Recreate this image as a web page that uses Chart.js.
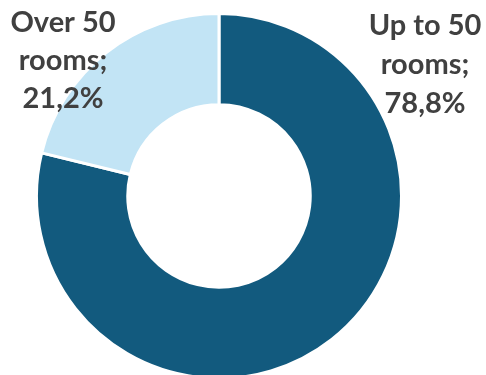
<!DOCTYPE html>
<html>
<head>
<meta charset="utf-8">
<script src="https://cdn.jsdelivr.net/npm/chart.js@4.4.1/dist/chart.umd.min.js"></script>
<style>
  html, body { margin: 0; padding: 0; background: #fff; overflow: hidden; }
  #wrap { width: 486px; height: 380px; }
</style>
</head>
<body>
<div id="wrap"><canvas id="roomsChart" width="486" height="380"></canvas></div>
<script>
// hotel size split
const categories = [['Up to 50', 'rooms'], ['Over 50', 'rooms']];
const shares = [78.8, 21.2];
const sliceColors = ['#125A7E', '#C2E4F5'];

// label anchor: centre x, first baseline, line step
const labelSpots = [
    { x: 425, y: 35, step: 39 },
    { x: 63, y: 32, step: 38 }
];

function fmt(v) { return v.toFixed(1).replace('.', ',') + '%'; }

const sliceLabels = {
    id: 'sliceLabels',
    afterDatasetsDraw(chart) {
        const ctx = chart.ctx;
        ctx.save();
        ctx.fillStyle = '#404040';
        ctx.font = 'bold 29px Lato, "DejaVu Sans", sans-serif';
        ctx.textAlign = 'center';
        ctx.textBaseline = 'alphabetic';
        categories.forEach((c, i) => {
            const lines = [c[0], c[1] + ';', fmt(shares[i])];
            const s = labelSpots[i];
            lines.forEach((t, k) => ctx.fillText(t, s.x, s.y + k * s.step));
        });
        ctx.restore();
    }
};

new Chart(document.getElementById('roomsChart'), {
    type: 'doughnut',
    data: {
        labels: categories.map(c => c.join(' ')),
        datasets: [{
            data: shares,
            backgroundColor: sliceColors,
            borderColor: '#ffffff',
            borderWidth: 3
        }]
    },
    options: {
        responsive: false,
        animation: false,
        cutout: '50%',
        layout: { padding: { left: 35, right: 83, top: 12, bottom: 0 } },
        plugins: { legend: { display: false }, tooltip: { enabled: false } }
    },
    plugins: [sliceLabels]
});
</script>
</body>
</html>
